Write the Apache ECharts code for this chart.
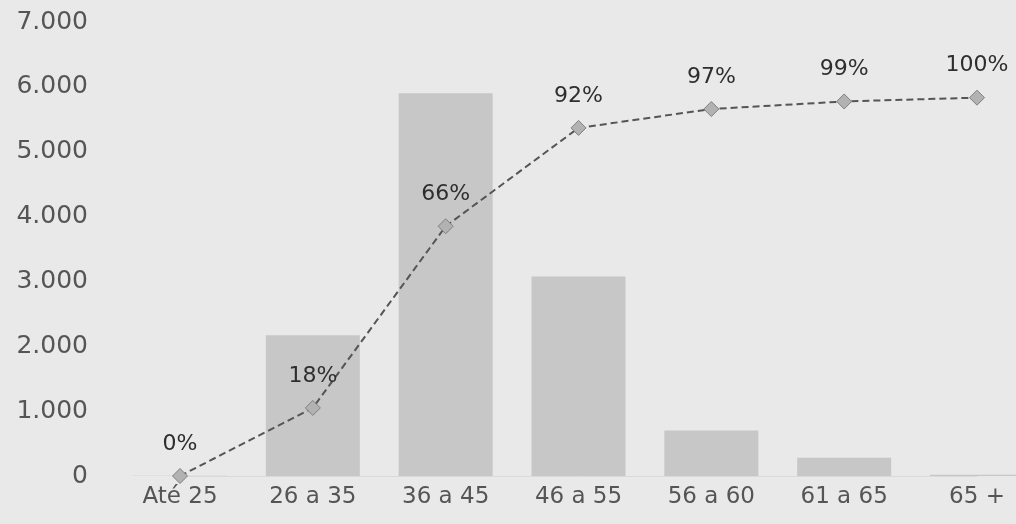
<!DOCTYPE html>
<html><head><meta charset="utf-8">
<script src="https://cdn.jsdelivr.net/npm/echarts@6/dist/echarts.min.js"></script>
<style>html,body{margin:0;padding:0;background:#e9e9e9}#c{width:1016px;height:524px}</style>
</head><body><div id="c"></div>
<script>
const categories = ['Até 25','26 a 35','36 a 45','46 a 55','56 a 60','61 a 65','65 +'];
const counts = [5, 2170, 5900, 3075, 700, 280, 20];
const cumulativePct = [0, 18, 66, 92, 97, 99, 100];
const yTicks = [0, 1000, 2000, 3000, 4000, 5000, 6000, 7000];

const chart = echarts.init(document.getElementById('c'));
const fmt = v => String(v).replace(/\B(?=(\d{3})+(?!\d))/g, '.');
chart.setOption({
  backgroundColor: '#e9e9e9',
  animation: false,
  grid: {left: 180, top: 22, right: 39, height: 454},
  xAxis: {
    type: 'category', data: categories, boundaryGap: false,
    axisLine: {lineStyle: {color: '#dadada'}},
    axisTick: {show: false},
    axisLabel: {color: '#555', fontFamily: 'DejaVu Sans', fontSize: 23, margin: 10}
  },
  yAxis: [{
    type: 'value', min: yTicks[0], max: yTicks[yTicks.length-1], interval: 1000,
    splitLine: {show: false}, axisLine: {show: false}, axisTick: {show: false},
    axisLabel: {color: '#555', fontFamily: 'DejaVu Sans', fontSize: 25, margin: 92, formatter: fmt}
  }, {
    type: 'value', min: 0, max: 120, show: false, splitLine: {show: false}
  }],
  series: [{
    type: 'bar', data: counts, barWidth: 94,
    itemStyle: {color: '#c7c7c7'}
  }, {
    type: 'line', yAxisIndex: 1, data: cumulativePct,
    symbol: 'diamond', symbolSize: 15,
    lineStyle: {color: '#555', width: 2, type: [7, 4]},
    itemStyle: {color: '#b2b2b2', borderColor: '#808080', borderWidth: 1},
    label: {show: true, position: 'top', distance: 13, formatter: p => p.value + '%',
      color: '#2e2e2e', fontFamily: 'DejaVu Sans', fontSize: 22}
  }]
});
</script></body></html>
